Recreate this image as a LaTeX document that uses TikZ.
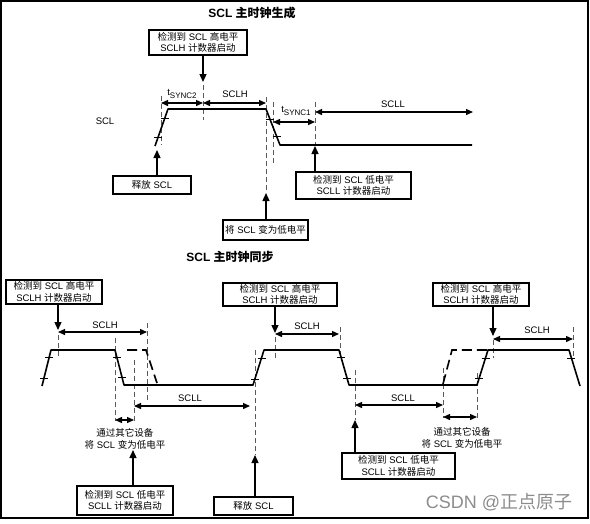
\documentclass[tikz,border=0pt]{standalone}
\usepackage{fontspec}
\setmainfont{Liberation Sans}
\newfontfamily\cjk{Noto Sans CJK SC}
\usetikzlibrary{arrows.meta}
\newcommand{\zh}[1]{{\cjk #1}}
\newcommand{\tsub}[1]{t\raisebox{-2.5pt}{\fontsize{8}{8}\selectfont #1}}
\begin{document}
\begin{tikzpicture}[x=1pt,y=-1pt,
  box/.style={draw, line width=1.3pt, inner sep=0pt, align=center, font=\fontsize{9.5}{11.5}\selectfont},
  lbl/.style={inner sep=0pt, align=center, font=\fontsize{9.5}{11.5}\selectfont},
  ttl/.style={inner sep=0pt, font=\fontsize{12}{14}\selectfont\bfseries},
  wave/.style={line width=1.6pt, line join=round},
  dwave/.style={line width=1.6pt, dash pattern=on 10pt off 5pt},
  guide/.style={line width=0.8pt, black!65, dash pattern=on 5pt off 3pt},
  ptr/.style={line width=1.3pt, -{Triangle[length=8pt,width=7pt]}},
  dim/.style={line width=1.3pt, {Triangle[length=7pt,width=6pt]}-{Triangle[length=7pt,width=6pt]}},
  tck/.style={line width=0.8pt}
]
\useasboundingbox (0,0) rectangle (590,523);
\draw[line width=1.5pt] (1,1) rectangle (588,518);

% ---------- top: generation ----------
\node[ttl] (ttl1) at (252,13) {SCL \zh{主时钟生成}};
\node[box, minimum width=98pt, minimum height=25pt] (T1) at (198,42.5) {\zh{检测到} SCL \zh{高电平}\\SCLH \zh{计数器启动}};
\node[box, minimum width=78pt, minimum height=18pt] (T2) at (152,185) {\zh{释放} SCL};
\node[box, minimum width=85pt, minimum height=20pt] (T3) at (265.5,230) {\zh{将} SCL \zh{变为低电平}};
\node[box, minimum width=115pt, minimum height=27pt] (T4) at (353.5,185.5) {\zh{检测到} SCL \zh{低电平}\\SCLL \zh{计数器启动}};
\node[lbl] (scl) at (105,121) {SCL};

\coordinate (a1) at (203,82);
\coordinate (a2) at (157,150);
\coordinate (a3) at (266,193);
\coordinate (a4) at (315,146);
\draw[ptr] (T1.south -| a1) -- (a1);
\draw[ptr] (T2.north -| a2) -- (a2);
\draw[ptr] (T3.north -| a3) -- (a3);
\draw[ptr] (T4.north -| a4) -- (a4);

\draw[guide] (161,96) -- (161,145);
\draw[guide] (203,85) -- (203,120);
\draw[guide] (266,97) -- (a3);
\draw[guide] (273,102) -- (273,165);
\draw[guide] (315,102) -- (a4);

\draw[wave] (155,146) -- (168,109) -- (266,109) -- (280,145) -- (472,145);
\draw[tck] (160.8,118) -- ++(8,0);
\draw[tck] (154.2,137) -- ++(8,0);
\draw[tck] (265.9,119) -- ++(8,0);
\draw[tck] (272.5,136) -- ++(8,0);

\coordinate (d1a) at (161,103); \coordinate (d1b) at (203,103);
\coordinate (d2b) at (266,103);
\coordinate (d3a) at (273,122); \coordinate (d3b) at (315,122);
\coordinate (d4a) at (315,112); \coordinate (d4b) at (473,112);
\draw[dim] (d1a) -- (d1b);
\draw[dim] (d1b) -- (d2b);
\draw[dim] (d3a) -- (d3b);
\draw[dim] (d4a) -- (d4b);
\node[lbl] (ls2) at (182,94) {\tsub{SYNC2}};
\node[lbl] (lh0) at (235,94) {SCLH};
\node[lbl] (ls1) at (296,111) {\tsub{SYNC1}};
\node[lbl] (ll0) at (393,104) {SCLL};

% ---------- bottom: synchronisation ----------
\node[ttl] (ttl2) at (230,257) {SCL \zh{主时钟同步}};
\node[box, minimum width=96pt, minimum height=24pt] (B1) at (54,292) {\zh{检测到} SCL \zh{高电平}\\SCLH \zh{计数器启动}};
\node[box, minimum width=114pt, minimum height=23pt] (B2) at (280,294.5) {\zh{检测到} SCL \zh{高电平}\\SCLH \zh{计数器启动}};
\node[box, minimum width=96pt, minimum height=23pt] (B3) at (481,294.5) {\zh{检测到} SCL \zh{高电平}\\SCLH \zh{计数器启动}};
\node[box, minimum width=96pt, minimum height=29pt] (B4) at (125,500.5) {\zh{检测到} SCL \zh{低电平}\\SCLL \zh{计数器启动}};
\node[box, minimum width=79pt, minimum height=18pt] (B5) at (253.5,506) {\zh{释放} SCL};
\node[box, minimum width=113pt, minimum height=26pt] (B6) at (398.5,466) {\zh{检测到} SCL \zh{低电平}\\SCLL \zh{计数器启动}};
\node[lbl] (n1) at (125,439) {\zh{通过其它设备}\\\zh{将} SCL \zh{变为低电平}};
\node[lbl] (n2) at (462,438) {\zh{通过其它设备}\\\zh{将} SCL \zh{变为低电平}};

\coordinate (p1) at (58,330);
\coordinate (p2) at (275,333);
\coordinate (p3) at (493,336);
\coordinate (p4) at (133,450);
\coordinate (p5) at (255,455);
\coordinate (p6) at (355,420);
\draw[ptr] (B1.south -| p1) -- (p1);
\draw[ptr] (B2.south -| p2) -- (p2);
\draw[ptr] (B3.south -| p3) -- (p3);
\draw[ptr] (B4.north -| p4) -- (p4);
\draw[ptr] (B5.north -| p5) -- (p5);
\draw[ptr] (B6.north -| p6) -- (p6);

\draw[guide] (58,335) -- (58,357);
\draw[guide] (115,338) -- (115,421);
\draw[guide] (134,360) -- (134,422);
\draw[guide] (147,323) -- (147,402);
\draw[guide] (255,350) -- (p5);
\draw[guide] (275,337) -- (275,358);
\draw[guide] (340,327) -- (340,357);
\draw[guide] (355,370) -- (p6);
\draw[guide] (443,368) -- (443,418);
\draw[guide] (477,373) -- (477,418);
\draw[guide] (493,340) -- (493,358);
\draw[guide] (573,327) -- (573,357);

\draw[wave] (42,386) -- (51,350) -- (115,350) -- (124,385) -- (253,385) -- (264,350) -- (339,350) -- (349,385) -- (477,385) -- (488,350) -- (569,350) -- (580,386);
\draw[dwave] (127,350) -- (146,350) -- (157,383);
\draw[dwave] (443,384) -- (452,350) -- (490,350);

\draw[tck] (40,378) -- ++(8,0);
\draw[tck] (45.2,357) -- ++(8,0);
\draw[tck] (112.8,357) -- ++(8,0);
\draw[tck] (117.9,377) -- ++(8,0);
\draw[tck] (250.9,379) -- ++(8,0);
\draw[tck] (257.5,358) -- ++(8,0);
\draw[tck] (337,357) -- ++(8,0);
\draw[tck] (343,378) -- ++(8,0);
\draw[tck] (475.2,378) -- ++(8,0);
\draw[tck] (481.5,358) -- ++(8,0);
\draw[tck] (567.4,358) -- ++(8,0);

\coordinate (e1a) at (58,332); \coordinate (e1b) at (147,332);
\coordinate (e2a) at (134,406); \coordinate (e2b) at (250,406);
\coordinate (e3a) at (115,420); \coordinate (e3b) at (134,420);
\coordinate (e4a) at (275,334); \coordinate (e4b) at (339,334);
\coordinate (e5a) at (355,405); \coordinate (e5b) at (443,405);
\coordinate (e6a) at (443,417); \coordinate (e6b) at (477,417);
\coordinate (e7a) at (493,339); \coordinate (e7b) at (573,339);
\draw[dim] (e1a) -- (e1b);
\draw[dim] (e2a) -- (e2b);
\draw[dim] (e3a) -- (e3b);
\draw[dim] (e4a) -- (e4b);
\draw[dim] (e5a) -- (e5b);
\draw[dim] (e6a) -- (e6b);
\draw[dim] (e7a) -- (e7b);
\node[lbl] (lh1) at (105,325) {SCLH};
\node[lbl] (ll1) at (190,398) {SCLL};
\node[lbl] (lh2) at (307,326) {SCLH};
\node[lbl] (ll2) at (403,398) {SCLL};
\node[lbl] (lh3) at (537,330) {SCLH};

\node[inner sep=0pt, font=\fontsize{18}{20}\selectfont, text=black!45] (wm) at (499,502) {CSDN @\zh{正点原子}};
\end{tikzpicture}
\end{document}
